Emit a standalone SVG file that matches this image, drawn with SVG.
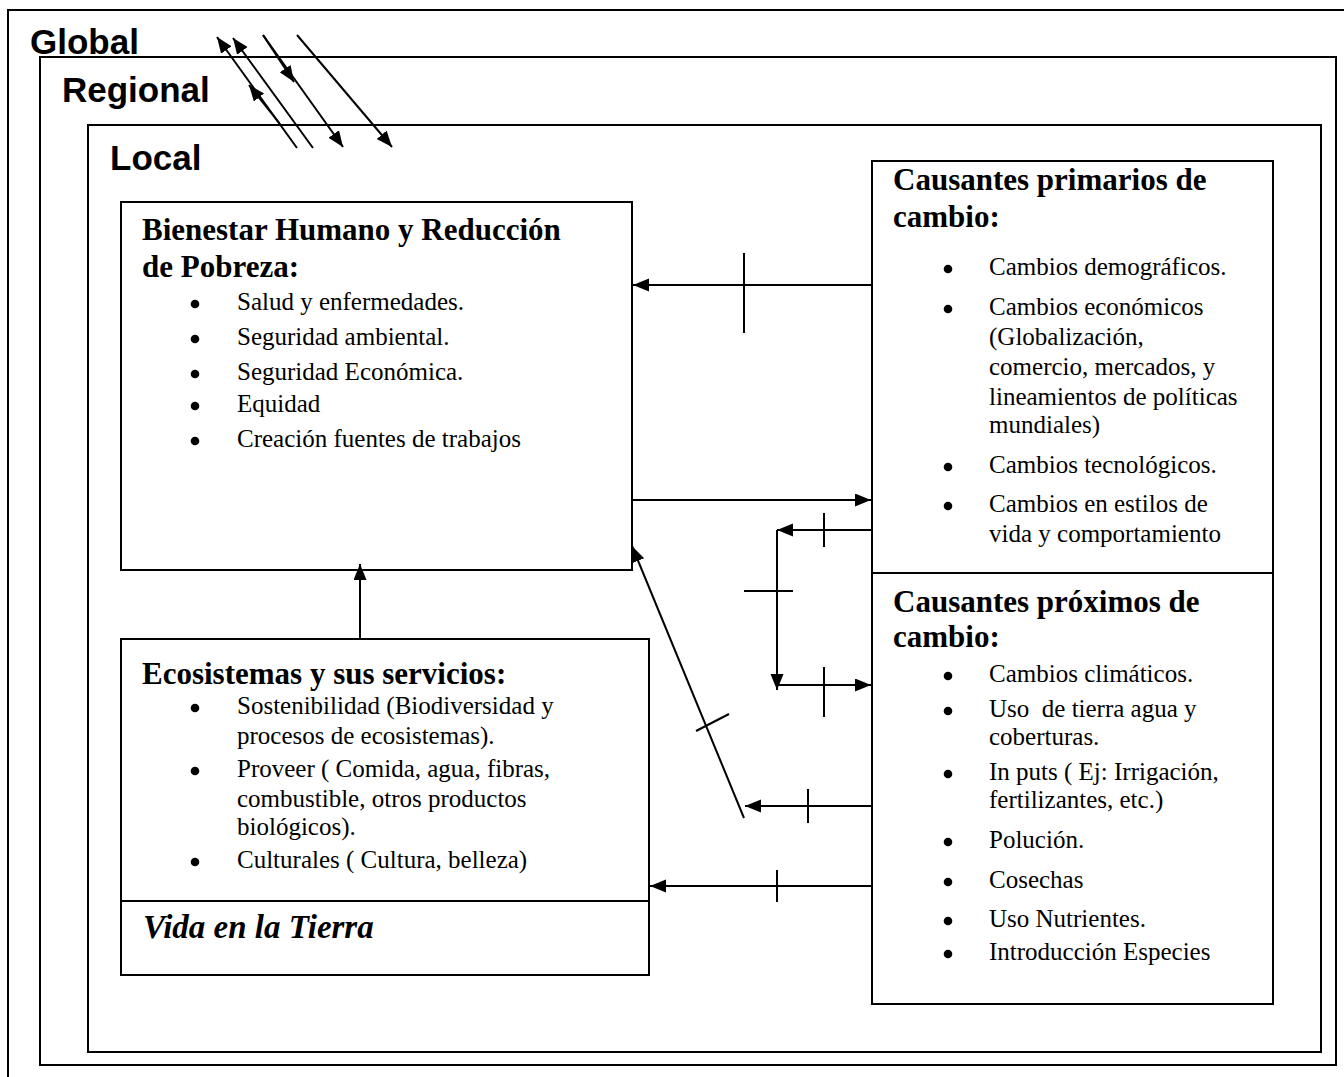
<svg xmlns="http://www.w3.org/2000/svg" width="1344" height="1077" viewBox="0 0 1344 1077">
<defs>
<marker id="ah" markerUnits="userSpaceOnUse" markerWidth="18" markerHeight="14" refX="16" refY="6.5" orient="auto">
<path d="M0,0 L16,6.5 L0,13 z" fill="#000"/>
</marker>
<style>
.frame{fill:none;stroke:#000;stroke-width:2}
.box{fill:none;stroke:#000;stroke-width:2}
.ln{stroke:#000;stroke-width:2;fill:none}
.arr{stroke:#000;stroke-width:2;fill:none;marker-end:url(#ah)}
.lvl{font-family:"Liberation Sans",Arial,sans-serif;font-weight:bold;font-size:35px;fill:#000}
.hd{font-family:"Liberation Serif","Times New Roman",serif;font-weight:bold;font-size:31px;fill:#000}
.it{font-family:"Liberation Serif","Times New Roman",serif;font-weight:bold;font-style:italic;font-size:33px;fill:#000}
.tx{font-family:"Liberation Serif","Times New Roman",serif;font-size:25px;fill:#000}
.dot{fill:#000}
</style>
</defs>
<rect width="1344" height="1077" fill="#fff"/>

<g id="global">
<rect class="frame" x="8" y="10" width="1345" height="1080"/>
<text class="lvl" x="30" y="54">Global</text>
</g>
<g id="regional">
<rect class="frame" x="40" y="57" width="1296" height="1008"/>
<text class="lvl" x="62" y="102">Regional</text>
</g>
<g id="local">
<rect class="frame" x="88" y="125" width="1233" height="927"/>
<text class="lvl" x="110" y="170">Local</text>
</g>

<g id="bienestar">
<rect class="box" x="121" y="202" width="511" height="368"/>
<text class="hd" x="142" y="240">Bienestar Humano y Reducción</text>
<text class="hd" x="142" y="277">de Pobreza:</text>
<circle class="dot" cx="195" cy="304" r="4.3"/><text class="tx" x="237" y="310">Salud y enfermedades.</text>
<circle class="dot" cx="195" cy="339" r="4.3"/><text class="tx" x="237" y="345">Seguridad ambiental.</text>
<circle class="dot" cx="195" cy="374" r="4.3"/><text class="tx" x="237" y="380">Seguridad Económica.</text>
<circle class="dot" cx="195" cy="406" r="4.3"/><text class="tx" x="237" y="412">Equidad</text>
<circle class="dot" cx="195" cy="441" r="4.3"/><text class="tx" x="237" y="447">Creación fuentes de trabajos</text>
</g>

<g id="ecosistemas">
<rect class="box" x="121" y="639" width="528" height="336"/>
<line class="ln" x1="121" y1="901" x2="649" y2="901"/>
<text class="hd" x="142" y="684">Ecosistemas y sus servicios:</text>
<circle class="dot" cx="195" cy="708" r="4.3"/><text class="tx" x="237" y="714">Sostenibilidad (Biodiversidad y</text>
<text class="tx" x="237" y="744">procesos de ecosistemas).</text>
<circle class="dot" cx="195" cy="771" r="4.3"/><text class="tx" x="237" y="777">Proveer ( Comida, agua, fibras,</text>
<text class="tx" x="237" y="807">combustible, otros productos</text>
<text class="tx" x="237" y="835">biológicos).</text>
<circle class="dot" cx="195" cy="862" r="4.3"/><text class="tx" x="237" y="868">Culturales ( Cultura, belleza)</text>
<text class="it" x="143" y="938">Vida en la Tierra</text>
</g>

<g id="primarios">
<rect class="box" x="872" y="161" width="401" height="412"/>
<text class="hd" x="893" y="190">Causantes primarios de</text>
<text class="hd" x="893" y="227">cambio:</text>
<circle class="dot" cx="948" cy="269" r="4.3"/><text class="tx" x="989" y="275">Cambios demográficos.</text>
<circle class="dot" cx="948" cy="309" r="4.3"/><text class="tx" x="989" y="315">Cambios económicos</text>
<text class="tx" x="989" y="345">(Globalización,</text>
<text class="tx" x="989" y="375">comercio, mercados, y</text>
<text class="tx" x="989" y="405">lineamientos de políticas</text>
<text class="tx" x="989" y="433">mundiales)</text>
<circle class="dot" cx="948" cy="467" r="4.3"/><text class="tx" x="989" y="473">Cambios tecnológicos.</text>
<circle class="dot" cx="948" cy="506" r="4.3"/><text class="tx" x="989" y="512">Cambios en estilos de</text>
<text class="tx" x="989" y="542">vida y comportamiento</text>
</g>

<g id="proximos">
<rect class="box" x="872" y="573" width="401" height="431"/>
<text class="hd" x="893" y="612">Causantes próximos de</text>
<text class="hd" x="893" y="647">cambio:</text>
<circle class="dot" cx="948" cy="676" r="4.3"/><text class="tx" x="989" y="682">Cambios climáticos.</text>
<circle class="dot" cx="948" cy="711" r="4.3"/><text class="tx" x="989" y="717" xml:space="preserve">Uso  de tierra agua y</text>
<text class="tx" x="989" y="745">coberturas.</text>
<circle class="dot" cx="948" cy="774" r="4.3"/><text class="tx" x="989" y="780">In puts ( Ej: Irrigación,</text>
<text class="tx" x="989" y="808">fertilizantes, etc.)</text>
<circle class="dot" cx="948" cy="842" r="4.3"/><text class="tx" x="989" y="848">Polución.</text>
<circle class="dot" cx="948" cy="882" r="4.3"/><text class="tx" x="989" y="888">Cosechas</text>
<circle class="dot" cx="948" cy="921" r="4.3"/><text class="tx" x="989" y="927">Uso Nutrientes.</text>
<circle class="dot" cx="948" cy="954" r="4.3"/><text class="tx" x="989" y="960">Introducción Especies</text>
</g>

<g id="connectors">
<!-- scale arrows -->
<line class="arr" x1="297" y1="148" x2="217" y2="37"/>
<line class="arr" x1="280" y1="124" x2="249" y2="85"/>
<line class="arr" x1="313" y1="148" x2="233" y2="38"/>
<line class="arr" x1="263" y1="35" x2="294" y2="82"/>
<line class="arr" x1="263" y1="35" x2="343" y2="147"/>
<line class="arr" x1="297" y1="35" x2="392" y2="147"/>
<!-- main connectors -->
<line class="arr" x1="872" y1="285" x2="633" y2="285"/>
<line class="ln" x1="744" y1="253" x2="744" y2="333"/>
<line class="arr" x1="632" y1="500" x2="871" y2="500"/>
<line class="arr" x1="872" y1="530" x2="777" y2="530"/>
<line class="ln" x1="824" y1="513" x2="824" y2="547"/>
<line class="arr" x1="777" y1="530" x2="777" y2="690"/>
<line class="ln" x1="744" y1="591" x2="793" y2="591"/>
<line class="arr" x1="777" y1="685" x2="871" y2="685"/>
<line class="ln" x1="824" y1="667" x2="824" y2="717"/>
<line class="arr" x1="744" y1="818" x2="632" y2="546"/>
<line class="ln" x1="696" y1="731" x2="729" y2="714"/>
<line class="arr" x1="872" y1="806" x2="745" y2="806"/>
<line class="ln" x1="808" y1="789" x2="808" y2="823"/>
<line class="arr" x1="872" y1="886" x2="650" y2="886"/>
<line class="ln" x1="777" y1="870" x2="777" y2="902"/>
<line class="arr" x1="360" y1="639" x2="360" y2="564"/>
</g>
</svg>
